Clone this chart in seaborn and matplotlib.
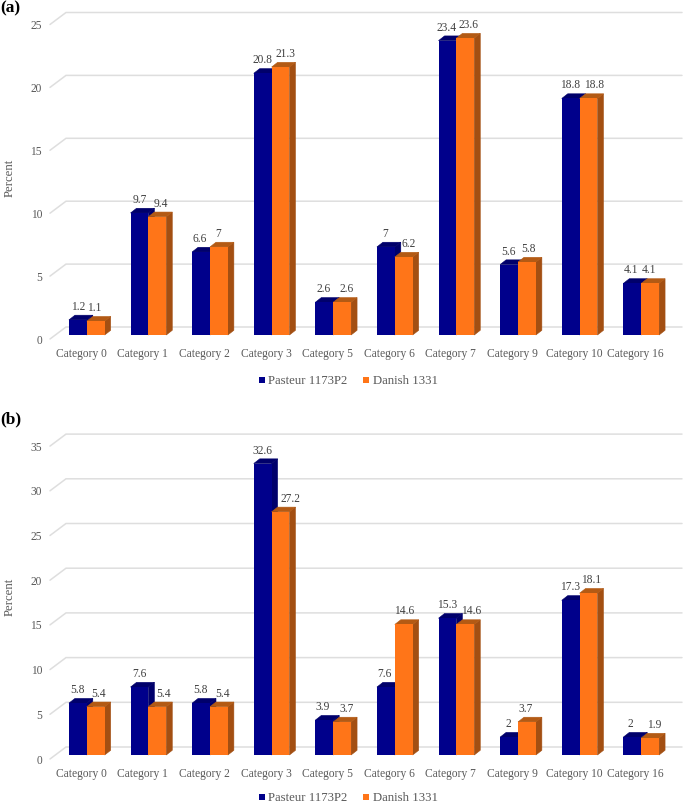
import matplotlib
matplotlib.use('Agg')
import matplotlib.pyplot as plt
from matplotlib.lines import Line2D
from matplotlib.patches import Polygon
from matplotlib.transforms import ScaledTranslation
import pandas as pd
import seaborn as sns

categories = ["Category 0", "Category 1", "Category 2", "Category 3", "Category 5",
              "Category 6", "Category 7", "Category 9", "Category 10", "Category 16"]
series_names = ["Pasteur 1173P2", "Danish 1331"]

pasteur_a = [1.2, 9.7, 6.6, 20.8, 2.6, 7, 23.4, 5.6, 18.8, 4.1]
danish_a = [1.1, 9.4, 7, 21.3, 2.6, 6.2, 23.6, 5.8, 18.8, 4.1]
ticks_a = [0, 5, 10, 15, 20, 25]

pasteur_b = [5.8, 7.6, 5.8, 32.6, 3.9, 7.6, 15.3, 2, 17.3, 2]
danish_b = [5.4, 5.4, 5.4, 27.2, 3.7, 14.6, 14.6, 3.7, 18.1, 1.9]
ticks_b = [0, 5, 10, 15, 20, 25, 30, 35]

# sideways nudges (pixels) of the value labels, the original moved them by hand
nudge_a = [[0, 0, -1, 0, -1, -1, -1, -1, -1, -1.5],
           [-1, 3.7, -1, 4.7, 4, 4.5, 3.3, 2, 6, -1]]
nudge_b = [[0, 0, -1, 0, -1.5, -1, 0, -1, -1, -1.5],
           [3, 6.5, 4, 9.5, 4.5, 0, 6, -1, 3, 3.7]]

FIG_W, FIG_H = 685, 805
DPI = 100
FRONT = ["#00008b", "#ff7518"]
SIDE = ["#00006b", "#a34f12"]
TOP = ["#00006b", "#b35a14"]
GRID = "#dedede"
TEXT = "#595959"
SERIF = "Liberation Serif"


def draw_panel(pasteur, danish, ticks, nudges, base_px, unit_px, letter, letter_y, label_y, legend_y):
    # axes placed by pixels, data 0 sits on the bar base
    left, right = 56, 672
    top_px = base_px - unit_px * (ticks[-1] + 2)
    ax = fig.add_axes([left / FIG_W, 1 - base_px / FIG_H,
                       (right - left) / FIG_W, (base_px - top_px) / FIG_H])

    df = pd.DataFrame({
        "category": categories * 2,
        "series": [series_names[0]] * len(categories) + [series_names[1]] * len(categories),
        "value": list(pasteur) + list(danish),
    })
    sns.barplot(data=df, x="category", y="value", hue="series", palette=FRONT,
                width=0.58, gap=0, saturation=1, legend=False, ax=ax, linewidth=0)
    ax.set_xlim(-0.5, len(categories) - 0.5)
    ax.set_ylim(0, ticks[-1] + 2)
    sns.despine(ax=ax, left=True, bottom=True)

    dx = (len(categories)) / (right - left)  # data per pixel
    dy = 1 / unit_px

    # 3D look: side and top faces built from each bar seaborn drew
    n = len(categories)
    bars = [p for p in ax.patches if p.get_height() > 0]
    for i, bar in enumerate(bars):
        s = 0 if i < n else 1
        k = i if s == 0 else i - n
        x0, w, h = bar.get_x(), bar.get_width(), bar.get_height()
        bar.set_zorder(3 + s * 2)
        ox, oy = 6 * dx, 4.7 * dy
        ax.add_patch(Polygon([(x0 + w, 0), (x0 + w + ox, oy), (x0 + w + ox, h + oy), (x0 + w, h)],
                             facecolor=SIDE[s], edgecolor=SIDE[s], lw=0.4, zorder=2 + s * 2, clip_on=False))
        ax.add_patch(Polygon([(x0, h), (x0 + ox, h + oy), (x0 + w + ox, h + oy), (x0 + w, h)],
                             facecolor=TOP[s], edgecolor=TOP[s], lw=0.4, zorder=2 + s * 2, clip_on=False))
        value = pasteur[k] if s == 0 else danish[k]
        ax.annotate(f"{value:g}", (x0 + w / 2, h), xytext=(nudges[s][k], 13), textcoords="offset pixels",
                    ha="center", va="center", family=SERIF, fontsize=8.3, color="#404040",
                    zorder=8, annotation_clip=False)

    # wall gridlines with the slanted stub at the left
    for t in ticks:
        ax.plot([(50 - left) * dx - 0.5, (66 - left) * dx - 0.5, (682 - left) * dx - 0.5],
                [t - 4 * dy, t + 8 * dy, t + 8 * dy],
                color=GRID, lw=1.1, zorder=1, clip_on=False, solid_joinstyle="miter")

    ax.set_xlabel("")
    ax.set_ylabel("")
    ax.set_yticks(ticks)
    ax.tick_params(axis="both", length=0)
    ax.tick_params(axis="x", pad=9)
    ax.tick_params(axis="y", pad=10)
    down = ScaledTranslation(0, -4 / DPI, fig.dpi_scale_trans)
    back = ScaledTranslation(-5.5 / DPI, 0, fig.dpi_scale_trans)
    for lab in ax.get_yticklabels():
        lab.set_transform(lab.get_transform() + down)
    for lab in ax.get_xticklabels():
        lab.set_transform(lab.get_transform() + back)
    for lab in ax.get_xticklabels() + ax.get_yticklabels():
        lab.set_family(SERIF)
        lab.set_fontsize(8.3)
        lab.set_color(TEXT)

    fig.text(9.5 / FIG_W, 1 - label_y / FIG_H, "Percent", rotation=90, ha="center", va="center",
             family=SERIF, fontsize=9.2, color=TEXT)
    fig.text(0.5 / FIG_W, 1 - letter_y / FIG_H, letter, ha="left", va="center",
             family=SERIF, fontsize=12.5, fontweight="bold", color="black")

    handles = [Line2D([], [], marker="s", ls="", color=c, markersize=5, markeredgewidth=0) for c in FRONT]
    leg = fig.legend(handles, series_names, loc="center", bbox_to_anchor=(347.5 / FIG_W, 1 - legend_y / FIG_H),
                     ncol=2, frameon=False, columnspacing=1.1, handlelength=0.7, handletextpad=0.15,
                     borderpad=0, prop={"family": SERIF, "size": 9.2}, labelcolor=TEXT)
    return leg


sns.set_theme(style="white")
fig = plt.figure(figsize=(FIG_W / DPI, FIG_H / DPI), dpi=DPI)

draw_panel(pasteur_a, danish_a, ticks_a, nudge_a, 335, 12.58, "(a)", 8, 178, 381)
draw_panel(pasteur_b, danish_b, ticks_b, nudge_b, 755, 8.94, "(b)", 419, 597, 798)

fig.savefig("out.png", dpi=DPI)
